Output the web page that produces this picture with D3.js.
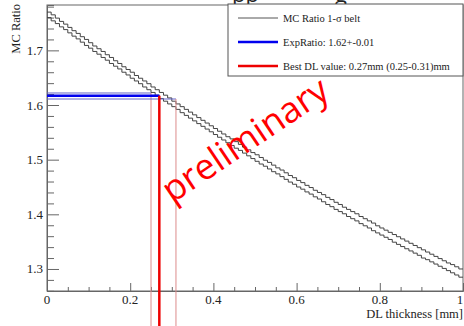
<!DOCTYPE html>
<html>
<head>
<meta charset="utf-8">
<script src="https://cdn.jsdelivr.net/npm/d3@7"></script>
<style>
    body { margin: 0; background: #fff; }
    svg { display: block; }
</style>
</head>
<body>
<svg id="chart" width="464" height="326"></svg>
<script>
// MC ratio belt, one value per bin of 0.01 mm (100 bins from 0 to 1)
const binWidth = 0.01;
const upperBelt = [
    1.770, 1.765, 1.759, 1.753, 1.748, 1.742, 1.736, 1.731, 1.725, 1.720,
    1.714, 1.708, 1.703, 1.698, 1.692, 1.687, 1.681, 1.676, 1.670, 1.665,
    1.660, 1.654, 1.649, 1.644, 1.639, 1.633, 1.628, 1.623, 1.618, 1.613,
    1.607, 1.602, 1.597, 1.592, 1.587, 1.582, 1.577, 1.572, 1.567, 1.562,
    1.557, 1.552, 1.547, 1.542, 1.538, 1.533, 1.528, 1.523, 1.518, 1.513,
    1.509, 1.504, 1.499, 1.495, 1.490, 1.485, 1.481, 1.476, 1.471, 1.467,
    1.462, 1.458, 1.453, 1.449, 1.444, 1.440, 1.436, 1.431, 1.427, 1.422,
    1.418, 1.413, 1.409, 1.405, 1.401, 1.396, 1.392, 1.388, 1.384, 1.379,
    1.375, 1.371, 1.367, 1.363, 1.359, 1.355, 1.351, 1.347, 1.343, 1.339,
    1.335, 1.331, 1.327, 1.323, 1.319, 1.315, 1.311, 1.308, 1.304, 1.300
];
const lowerBelt = [
    1.760, 1.754, 1.749, 1.743, 1.738, 1.732, 1.726, 1.721, 1.715, 1.709,
    1.704, 1.698, 1.693, 1.687, 1.682, 1.676, 1.671, 1.666, 1.660, 1.655,
    1.649, 1.644, 1.639, 1.633, 1.628, 1.623, 1.618, 1.612, 1.607, 1.602,
    1.597, 1.592, 1.586, 1.581, 1.576, 1.571, 1.566, 1.561, 1.556, 1.551,
    1.546, 1.541, 1.536, 1.531, 1.526, 1.521, 1.517, 1.512, 1.507, 1.502,
    1.497, 1.492, 1.488, 1.483, 1.478, 1.474, 1.469, 1.464, 1.459, 1.455,
    1.450, 1.446, 1.441, 1.437, 1.432, 1.428, 1.423, 1.418, 1.414, 1.409,
    1.405, 1.401, 1.396, 1.392, 1.388, 1.383, 1.379, 1.375, 1.370, 1.366,
    1.362, 1.358, 1.354, 1.349, 1.345, 1.341, 1.337, 1.333, 1.329, 1.325,
    1.320, 1.317, 1.313, 1.309, 1.305, 1.301, 1.297, 1.293, 1.289, 1.285
];

// measured ratio (center, upper, lower) and the DL values where it hits the belt
const expRatio = [1.617, 1.622, 1.611];
const bestDL = [0.27, 0.25, 0.31];

const xTicks = [0, 0.2, 0.4, 0.6, 0.8, 1];
const xTickLabels = ["0", "0.2", "0.4", "0.6", "0.8", "1"];
const yTicks = [1.3, 1.4, 1.5, 1.6, 1.7];
const yTickLabels = ["1.3", "1.4", "1.5", "1.6", "1.7"];

const legendLabels = [
    "MC Ratio 1-\u03c3 belt",
    "ExpRatio: 1.62+-0.01",
    "Best DL value:  0.27mm (0.25-0.31)mm"
];
const legendColors = ["#555", "#0000ee", "#ee0000"];

const serif = "'Liberation Serif', 'Times New Roman', serif";


/** Class drawing the ROOT-like ratio plot. */
class RatioPlot {
    constructor() {
        this.svg = d3.select("#chart");
        this.width = +this.svg.attr("width");
        this.height = +this.svg.attr("height");
        this.frame = {left: 47, right: 463, top: 5, bottom: 291};

        this.x = d3.scaleLinear().domain([0, 1])
            .range([this.frame.left, this.frame.right]);
        this.y = d3.scaleLinear().domain([1.2597, 1.783])
            .range([this.frame.bottom, this.frame.top]);
    }

    drawTitleFragment() {
        // bottom of the slide title, cut off by the crop
        this.svg.append("g")
            .attr("font-family", "Open Sans, sans-serif")
            .attr("font-size", 22)
            .attr("fill", "#222")
            .selectAll("text")
            .data([["pp", 232], ["g", 335]])
            .enter()
            .append("text")
            .attr("x", d => d[1])
            .attr("y", 2)
            .text(d => d[0]);
    }

    drawFrame() {
        let f = this.frame;
        this.svg.append("rect")
            .attr("x", f.left)
            .attr("y", f.top)
            .attr("width", f.right - f.left)
            .attr("height", f.bottom - f.top)
            .attr("fill", "none")
            .attr("stroke", "#666")
            .attr("stroke-width", 1);
    }

    drawAxes() {
        let x = this.x, y = this.y, f = this.frame;

        // x axis: ticks pointing up into the frame
        let xAxis = d3.axisTop(x)
            .tickValues(d3.range(0, 1.0001, 0.05))
            .tickSize(4)
            .tickFormat("");
        let gx = this.svg.append("g")
            .attr("transform", "translate(0," + f.bottom + ")")
            .call(xAxis);
        gx.select(".domain").attr("stroke", "#666");
        gx.selectAll(".tick line")
            .attr("stroke", "#666")
            .attr("y2", d => xTicks.some(t => Math.abs(t - d) < 1e-6) ? -8 : -4);

        this.svg.append("g").selectAll("text")
            .data(xTicks)
            .enter()
            .append("text")
            .attr("font-family", serif)
            .attr("font-size", 13)
            .attr("fill", "#222")
            .attr("x", d => Math.min(x(d), 460))
            .attr("y", 304)
            .attr("text-anchor", "middle")
            .text((d, i) => xTickLabels[i]);

        // y axis: ticks pointing right into the frame
        let yAxis = d3.axisRight(y)
            .tickValues(d3.range(1.26, 1.781, 0.02))
            .tickSize(7)
            .tickFormat("");
        let gy = this.svg.append("g")
            .attr("transform", "translate(" + f.left + ",0)")
            .call(yAxis);
        gy.select(".domain").attr("stroke", "#666");
        gy.selectAll(".tick line")
            .attr("stroke", "#666")
            .attr("x2", d => yTicks.some(t => Math.abs(t - d) < 1e-6) ? 12 : 7);

        this.svg.append("g").selectAll("text")
            .data(yTicks)
            .enter()
            .append("text")
            .attr("font-family", serif)
            .attr("font-size", 13)
            .attr("fill", "#222")
            .attr("x", 43)
            .attr("y", d => y(d) + 4.5)
            .attr("text-anchor", "end")
            .text((d, i) => yTickLabels[i]);

        this.svg.append("text")
            .attr("font-family", serif)
            .attr("font-size", 12.5)
            .attr("fill", "#222")
            .attr("text-anchor", "end")
            .attr("x", f.right)
            .attr("y", 318)
            .text("DL thickness [mm]");

        this.svg.append("text")
            .attr("font-family", serif)
            .attr("font-size", 12.5)
            .attr("fill", "#222")
            .attr("text-anchor", "end")
            .attr("transform", "translate(20," + (f.top - 1) + ") rotate(-90)")
            .text("MC Ratio");
    }

    drawBelt() {
        let x = this.x, y = this.y;
        let line = d3.line()
            .x(d => x(d[0]))
            .y(d => y(d[1]))
            .curve(d3.curveStepAfter);

        [upperBelt, lowerBelt].forEach(function (belt) {
            let pts = belt.map((v, i) => [i * binWidth, v]);
            pts.push([belt.length * binWidth, belt[belt.length - 1]]);
            this.svg.append("path")
                .datum(pts)
                .attr("d", line)
                .attr("fill", "none")
                .attr("stroke", "#444")
                .attr("stroke-width", 1);
        }, this);
    }

    drawMeasurement() {
        let x = this.x, y = this.y;
        let marks = this.svg.append("g");

        // thin lines first (error band), then the central values on top
        [1, 2, 0].forEach(function (i) {
            let thick = i === 0;
            marks.append("line")
                .attr("x1", x(0))
                .attr("x2", x(bestDL[i]))
                .attr("y1", y(expRatio[i]))
                .attr("y2", y(expRatio[i]))
                .attr("stroke", thick ? "#0000ee" : "#6464c8")
                .attr("stroke-width", thick ? 2.5 : 1);
            marks.append("line")
                .attr("x1", x(bestDL[i]))
                .attr("x2", x(bestDL[i]))
                .attr("y1", y(expRatio[i]))
                .attr("y2", this.height)
                .attr("stroke", thick ? "#ee0000" : "#dc8c8c")
                .attr("stroke-width", thick ? 2.5 : 1);
        }, this);
    }

    drawLegend() {
        let lg = this.svg.append("g");
        lg.append("rect")
            .attr("x", 228)
            .attr("y", 4)
            .attr("width", 235)
            .attr("height", 72)
            .attr("fill", "#fff")
            .attr("stroke", "#555")
            .attr("stroke-width", 1);

        let rows = lg.selectAll("g.entry")
            .data(legendLabels)
            .enter()
            .append("g")
            .attr("class", "entry")
            .attr("transform", (d, i) => "translate(0," + (18 + i * 24) + ")");

        rows.append("line")
            .attr("x1", 238)
            .attr("x2", 278)
            .attr("stroke", (d, i) => legendColors[i])
            .attr("stroke-width", (d, i) => i === 0 ? 1 : 2.5);

        rows.append("text")
            .attr("font-family", serif)
            .attr("font-size", 10.5)
            .attr("fill", "#222")
            .attr("x", 283)
            .attr("y", 3.5)
            .text(d => d);
    }

    drawWatermark() {
        this.svg.append("text")
            .attr("transform", "translate(252,150) rotate(-34)")
            .attr("text-anchor", "middle")
            .attr("font-family", "Open Sans, sans-serif")
            .attr("font-size", 36)
            .attr("fill", "#ff0000")
            .text("preliminary");
    }

    draw() {
        this.drawTitleFragment();
        this.drawFrame();
        this.drawAxes();
        this.drawBelt();
        this.drawMeasurement();
        this.drawLegend();
        this.drawWatermark();
    }
}

let plot = new RatioPlot();
plot.draw();
</script>
</body>
</html>
